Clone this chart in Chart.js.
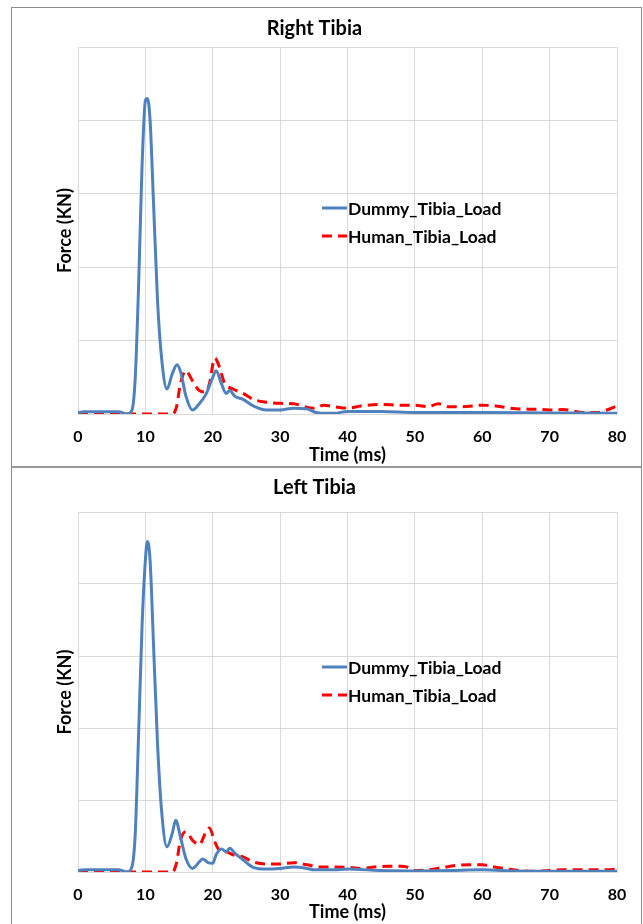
<!DOCTYPE html>
<html>
<head>
<meta charset="utf-8">
<script src="https://cdn.jsdelivr.net/npm/chart.js@4.4.1/dist/chart.umd.min.js"></script>
<style>
  body { margin: 0; background: #fff; width: 643px; height: 924px; overflow: hidden; position: relative; }
  .frame { position: absolute; left: 11px; width: 629px; border-left: 1px solid #8c8c8c; border-right: 1px solid #8c8c8c; }
  #frameTop { top: 7px; height: 458px; border-top: 1px solid #8c8c8c; border-bottom: 2px solid #999; }
  #frameBottom { top: 468px; height: 460px; }
  .frame canvas { position: absolute; left: 0; }
</style>
</head>
<body>
<div class="frame" id="frameTop"><canvas id="rightChart" style="top:0"></canvas></div>
<div class="frame" id="frameBottom"><canvas id="leftChart" style="top:1px"></canvas></div>
<script>
// Right tibia (y in gridline units)
const rightDummyTime = [0, 1, 3, 6, 7.3, 8, 8.5, 9, 9.5, 10, 10.3, 10.7, 11.2, 11.8, 12.4, 13.2, 14, 14.7, 15.3, 16, 17, 18, 19, 20, 20.5, 21.3, 22, 22.5, 23.3, 24.5, 26, 28, 30, 32, 34, 35, 36, 38, 40, 45, 50, 60, 70, 80];
const rightDummyForce = [0.02, 0.03, 0.03, 0.03, 0, 0.05, 0.5, 1.77, 3.36, 4.27, 4.3, 4.0, 2.9, 1.55, 0.77, 0.34, 0.55, 0.67, 0.55, 0.25, 0.055, 0.14, 0.27, 0.5, 0.59, 0.41, 0.28, 0.32, 0.24, 0.2, 0.11, 0.055, 0.055, 0.08, 0.07, 0.03, 0.01, 0.01, 0.035, 0.035, 0.02, 0.02, 0.015, 0.01];
const rightHumanTime = [0, 6, 7.3, 14, 14.6, 15.2, 16, 17, 18, 19, 19.5, 20.3, 21, 21.7, 23, 24.5, 26, 28, 30, 32, 34, 35, 36.5, 38, 40, 42, 45, 48, 50, 52, 53.5, 55, 57, 60, 62, 65, 68, 70, 72, 75, 77, 78.5, 80];
const rightHumanForce = [0.01, 0, 0, 0, 0.09, 0.41, 0.59, 0.45, 0.32, 0.3, 0.41, 0.76, 0.64, 0.43, 0.34, 0.28, 0.2, 0.16, 0.145, 0.14, 0.09, 0.08, 0.12, 0.1, 0.08, 0.11, 0.13, 0.12, 0.12, 0.1, 0.14, 0.1, 0.1, 0.12, 0.11, 0.07, 0.065, 0.055, 0.06, 0.02, 0.02, 0.055, 0.11];

// Left tibia
const leftDummyTime = [0, 1, 3, 6, 7.3, 8, 8.5, 9, 9.5, 10, 10.3, 10.7, 11.2, 11.8, 12.4, 13.2, 14, 14.5, 15.2, 16, 17, 18, 18.5, 19.3, 20, 20.5, 21.3, 22, 22.5, 23.3, 24.5, 26, 28, 30, 32, 34, 35, 38, 40, 45, 50, 55, 60, 65, 70, 80];
const leftDummyForce = [0.02, 0.03, 0.03, 0.03, 0, 0.07, 0.54, 1.93, 3.4, 4.33, 4.59, 4.33, 3.18, 1.79, 0.86, 0.35, 0.54, 0.72, 0.49, 0.19, 0.05, 0.14, 0.18, 0.13, 0.12, 0.24, 0.32, 0.28, 0.33, 0.26, 0.17, 0.065, 0.04, 0.05, 0.07, 0.05, 0.03, 0.03, 0.04, 0.02, 0.015, 0.02, 0.03, 0.015, 0.01, 0.01];
const leftHumanTime = [0, 7, 14, 14.6, 15.2, 16, 17, 18, 19, 19.5, 20.3, 21, 22, 23, 24.5, 26, 28, 30, 32, 34, 36, 38, 40, 42, 44, 46, 48, 49, 50, 52, 54, 56, 58, 60, 62, 64, 66, 68, 70, 72, 75, 78, 80];
const leftHumanForce = [0, 0, 0, 0.12, 0.44, 0.56, 0.44, 0.38, 0.56, 0.61, 0.42, 0.3, 0.28, 0.24, 0.21, 0.14, 0.11, 0.11, 0.13, 0.1, 0.07, 0.07, 0.065, 0.05, 0.07, 0.08, 0.08, 0.065, 0.02, 0.03, 0.06, 0.09, 0.1, 0.1, 0.065, 0.04, 0.015, 0.01, 0.02, 0.03, 0.03, 0.03, 0.04];

const seriesNames = ['Dummy_Tibia_Load', 'Human_Tibia_Load'];
const timeRange = [0, 80];
const timeStep = 10;
const forceGridLines = 5;

const FONT = 'Lato, "Open Sans", sans-serif';
const GRID = '#d9d9d9';

function toPoints(xs, ys) {
    return xs.map((x, i) => ({ x: x, y: ys[i] }));
}

// legend drawn inside the plot area, like the Excel one
const insideLegend = {
    id: 'insideLegend',
    afterDraw(chart, args, opts) {
        const ctx = chart.ctx;
        ctx.save();
        ctx.font = 'bold 17.5px ' + FONT;
        ctx.textBaseline = 'middle';
        ctx.fillStyle = '#000';
        chart.data.datasets.forEach((ds, i) => {
            const y = opts.y + i * opts.rowGap;
            ctx.strokeStyle = ds.borderColor;
            ctx.lineWidth = 3;
            ctx.setLineDash(ds.borderDash || []);
            ctx.beginPath();
            ctx.moveTo(opts.x, y);
            ctx.lineTo(opts.x + 25, y);
            ctx.stroke();
            ctx.setLineDash([]);
            ctx.fillText(ds.label, opts.x + 26, y + 1);
        });
        ctx.restore();
    }
};

function makeChart(id, title, h, dummyT, dummyF, humanT, humanF, lay) {
    const canvas = document.getElementById(id);
    canvas.width = 629;
    canvas.height = h;
    canvas.style.width = '629px';
    canvas.style.height = h + 'px';
    return new Chart(canvas.getContext('2d'), {
        type: 'line',
        data: {
            datasets: [{
                label: seriesNames[0],
                data: toPoints(dummyT, dummyF),
                borderColor: '#4f81bd',
                borderWidth: 3,
                pointRadius: 0,
                cubicInterpolationMode: 'monotone',
                fill: false
            }, {
                label: seriesNames[1],
                data: toPoints(humanT, humanF),
                borderColor: '#ff0000',
                borderWidth: 3,
                borderDash: [10, 6],
                pointRadius: 0,
                cubicInterpolationMode: 'monotone',
                fill: false
            }]
        },
        plugins: [insideLegend],
        options: {
            responsive: false,
            animation: false,
            layout: { padding: { left: 0, right: 24, top: 0, bottom: 0 } },
            plugins: {
                legend: { display: false },
                tooltip: { enabled: false },
                title: {
                    display: true,
                    text: title,
                    color: '#000',
                    font: { family: FONT, size: 20, weight: 'bold' },
                    padding: { top: lay.titleTop, bottom: lay.titleBottom }
                },
                insideLegend: { x: 310, y: lay.legendY, rowGap: 28 }
            },
            scales: {
                x: {
                    type: 'linear',
                    min: timeRange[0],
                    max: timeRange[1],
                    grid: { color: GRID, lineWidth: 1, drawTicks: false },
                    border: { color: GRID },
                    ticks: {
                        stepSize: timeStep,
                        padding: lay.tickPad,
                        color: '#000',
                        maxRotation: 0,
                        font: { family: FONT, size: 16, weight: 'bold' }
                    },
                    title: {
                        display: true,
                        text: 'Time (ms)',
                        color: '#000',
                        font: { family: FONT, size: 18, weight: 'bold' },
                        padding: { top: 0, bottom: lay.xTitleBottom }
                    },
                    afterFit: s => { s.height = 52; }
                },
                y: {
                    min: 0,
                    max: forceGridLines,
                    grid: { color: GRID, lineWidth: 1, drawTicks: false },
                    border: { color: GRID },
                    ticks: { stepSize: 1, display: false },
                    title: {
                        display: true,
                        text: 'Force (KN)',
                        color: '#000',
                        font: { family: FONT, size: 18, weight: 'bold' },
                        padding: { top: 42, bottom: 0 }
                    },
                    afterFit: s => { s.width = 66; }
                }
            }
        }
    });
}

makeChart('rightChart', 'Right Tibia', 458, rightDummyTime, rightDummyForce, rightHumanTime, rightHumanForce,
    { titleTop: 9, titleBottom: 6, tickPad: 13, xTitleBottom: 0, legendY: 200 });
makeChart('leftChart', 'Left Tibia', 455, leftDummyTime, leftDummyForce, leftHumanTime, leftHumanForce,
    { titleTop: 7, titleBottom: 12, tickPad: 13, xTitleBottom: 1, legendY: 198 });
</script>
</body>
</html>
